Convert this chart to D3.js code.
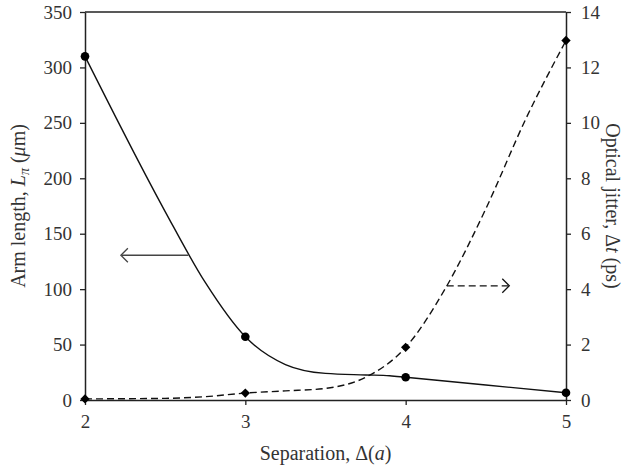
<!DOCTYPE html>
<html>
<head>
<meta charset="utf-8">
<script src="https://cdn.jsdelivr.net/npm/d3@7"></script>
<style>
  body { margin: 0; background: #fff; }
  svg text { font-family: "Liberation Serif", "DejaVu Serif", serif; fill: #333; }
</style>
</head>
<body>
<div id="chart"></div>
<script>
// measured points (markers)
const separation = [2, 3, 4, 5];
const armLength = [310, 57, 20.5, 6.6];
const jitter = [0.04, 0.25, 1.9, 12.97];

// smoothed curve points
const armCurveX = [2, 2.5, 2.75, 3, 3.25, 3.5, 3.75, 3.9, 4, 4.5, 5];
const armCurveY = [310, 170, 106, 57, 32, 24, 22.6, 21.9, 20.5, 13.5, 6.6];
const jitCurveX = [2, 2.5, 2.75, 3, 3.25, 3.5, 3.75, 4, 4.25, 4.5, 4.75, 5];
const jitCurveY = [0.04, 0.06, 0.12, 0.25, 0.33, 0.42, 0.82, 1.9, 4.05, 6.9, 10.15, 12.97];

const xTicks = [2, 3, 4, 5];
const leftTicks = [0, 50, 100, 150, 200, 250, 300, 350];
const rightTicks = [0, 2, 4, 6, 8, 10, 12, 14];

var svgWidth = 629;
var svgHeight = 469;

const svg = d3.select("#chart")
  .append("svg")
    .attr("width", svgWidth)
    .attr("height", svgHeight);

const x = d3.scaleLinear().domain([2, 5]).range([85, 566]);
const yL = d3.scaleLinear().domain([0, 350]).range([400, 12]);
const yR = d3.scaleLinear().domain([0, 14]).range([400, 12]);

// frame on top
svg.append("line")
  .attr("x1", x(2)).attr("x2", x(5))
  .attr("y1", yL(350)).attr("y2", yL(350))
  .attr("stroke", "#222").attr("stroke-width", 1.3);

// axes
const axisStyle = function(g) {
  g.attr("font-family", "'Liberation Serif', serif").attr("font-size", 19);
  g.select(".domain").attr("stroke", "#222").attr("stroke-width", 1.5);
  g.selectAll(".tick line").attr("stroke", "#222").attr("stroke-width", 1.3);
  g.selectAll(".tick text")
    .style("font-family", "'Liberation Serif', serif")
    .style("font-size", "19px")
    .style("fill", "#333");
};

svg.append("g")
  .attr("transform", "translate(0,400)")
  .call(d3.axisBottom(x).tickValues(xTicks).tickSize(5).tickSizeOuter(0).tickPadding(10).tickFormat(d3.format("d")))
  .call(axisStyle);

svg.append("g")
  .attr("transform", "translate(85,0)")
  .call(d3.axisLeft(yL).tickValues(leftTicks).tickSize(5).tickSizeOuter(0).tickPadding(8).tickFormat(d3.format("d")))
  .call(axisStyle);

svg.append("g")
  .attr("transform", "translate(566,0)")
  .call(d3.axisRight(yR).tickValues(rightTicks).tickSize(5).tickSizeOuter(0).tickPadding(10).tickFormat(d3.format("d")))
  .call(axisStyle);

// curves
const armLine = d3.line()
  .x(function(d, i) { return x(armCurveX[i]); })
  .y(function(d) { return yL(d); })
  .curve(d3.curveMonotoneX);

const jitLine = d3.line()
  .x(function(d, i) { return x(jitCurveX[i]); })
  .y(function(d) { return yR(d); })
  .curve(d3.curveMonotoneX);

svg.append("path")
  .attr("d", armLine(armCurveY))
  .attr("fill", "none")
  .attr("stroke", "#111")
  .attr("stroke-width", 1.4);

svg.append("path")
  .attr("d", jitLine(jitCurveY))
  .attr("fill", "none")
  .attr("stroke", "#111")
  .attr("stroke-width", 1.4)
  .attr("stroke-dasharray", "7,4");

// markers
svg.selectAll(".armdot")
  .data(armLength)
  .enter()
  .append("circle")
  .attr("cx", function(d, i) { return x(separation[i]); })
  .attr("cy", function(d) { return yL(d); })
  .attr("r", 4.3)
  .attr("fill", "#000");

svg.selectAll(".jitdot")
  .data(jitter)
  .enter()
  .append("path")
  .attr("d", d3.symbol().type(d3.symbolDiamond2).size(56))
  .attr("transform", function(d, i) { return "translate(" + x(separation[i]) + "," + yR(d) + ")"; })
  .attr("fill", "#000");

// arrows pointing to each axis
const arrowHead = function(px, py, dir) {
  return "M" + (px + dir * 7) + "," + (py - 7) + "L" + px + "," + py + "L" + (px + dir * 7) + "," + (py + 7);
};

const ay = yL(130.5);
svg.append("line")
  .attr("x1", x(2.645)).attr("x2", x(2.23))
  .attr("y1", ay).attr("y2", ay)
  .attr("stroke", "#444").attr("stroke-width", 1.5);
svg.append("path")
  .attr("d", arrowHead(x(2.23) - 1, ay, 1))
  .attr("fill", "none").attr("stroke", "#444").attr("stroke-width", 1.3);

const by = yR(4.12);
svg.append("line")
  .attr("x1", x(4.256)).attr("x2", x(4.64))
  .attr("y1", by).attr("y2", by)
  .attr("stroke", "#111").attr("stroke-width", 1.3)
  .attr("stroke-dasharray", "7,4");
svg.append("path")
  .attr("d", arrowHead(x(4.64) + 1, by, -1))
  .attr("fill", "none").attr("stroke", "#111").attr("stroke-width", 1.3);

// axis titles
const xTitle = svg.append("text")
  .attr("x", (x(2) + x(5)) / 2)
  .attr("y", 460)
  .attr("text-anchor", "middle")
  .style("font-size", "20px");
xTitle.append("tspan").text("Separation, \u0394(");
xTitle.append("tspan").attr("font-style", "italic").text("a");
xTitle.append("tspan").text(")");

const lTitle = svg.append("text")
  .attr("transform", "translate(25,206) rotate(-90)")
  .attr("text-anchor", "middle")
  .style("font-size", "20px");
lTitle.append("tspan").text("Arm length, ");
lTitle.append("tspan").attr("font-style", "italic").text("L");
lTitle.append("tspan").attr("font-style", "italic").attr("font-size", "14px").attr("dy", 4).text("\u03c0");
lTitle.append("tspan").attr("dy", -4).text(" (");
lTitle.append("tspan").attr("font-style", "italic").text("\u03bc");
lTitle.append("tspan").text("m)");

const rTitle = svg.append("text")
  .attr("transform", "translate(606,206) rotate(90)")
  .attr("text-anchor", "middle")
  .style("font-size", "20px");
rTitle.append("tspan").text("Optical jitter, \u0394");
rTitle.append("tspan").attr("font-style", "italic").text("t");
rTitle.append("tspan").text(" (ps)");
</script>
</body>
</html>
